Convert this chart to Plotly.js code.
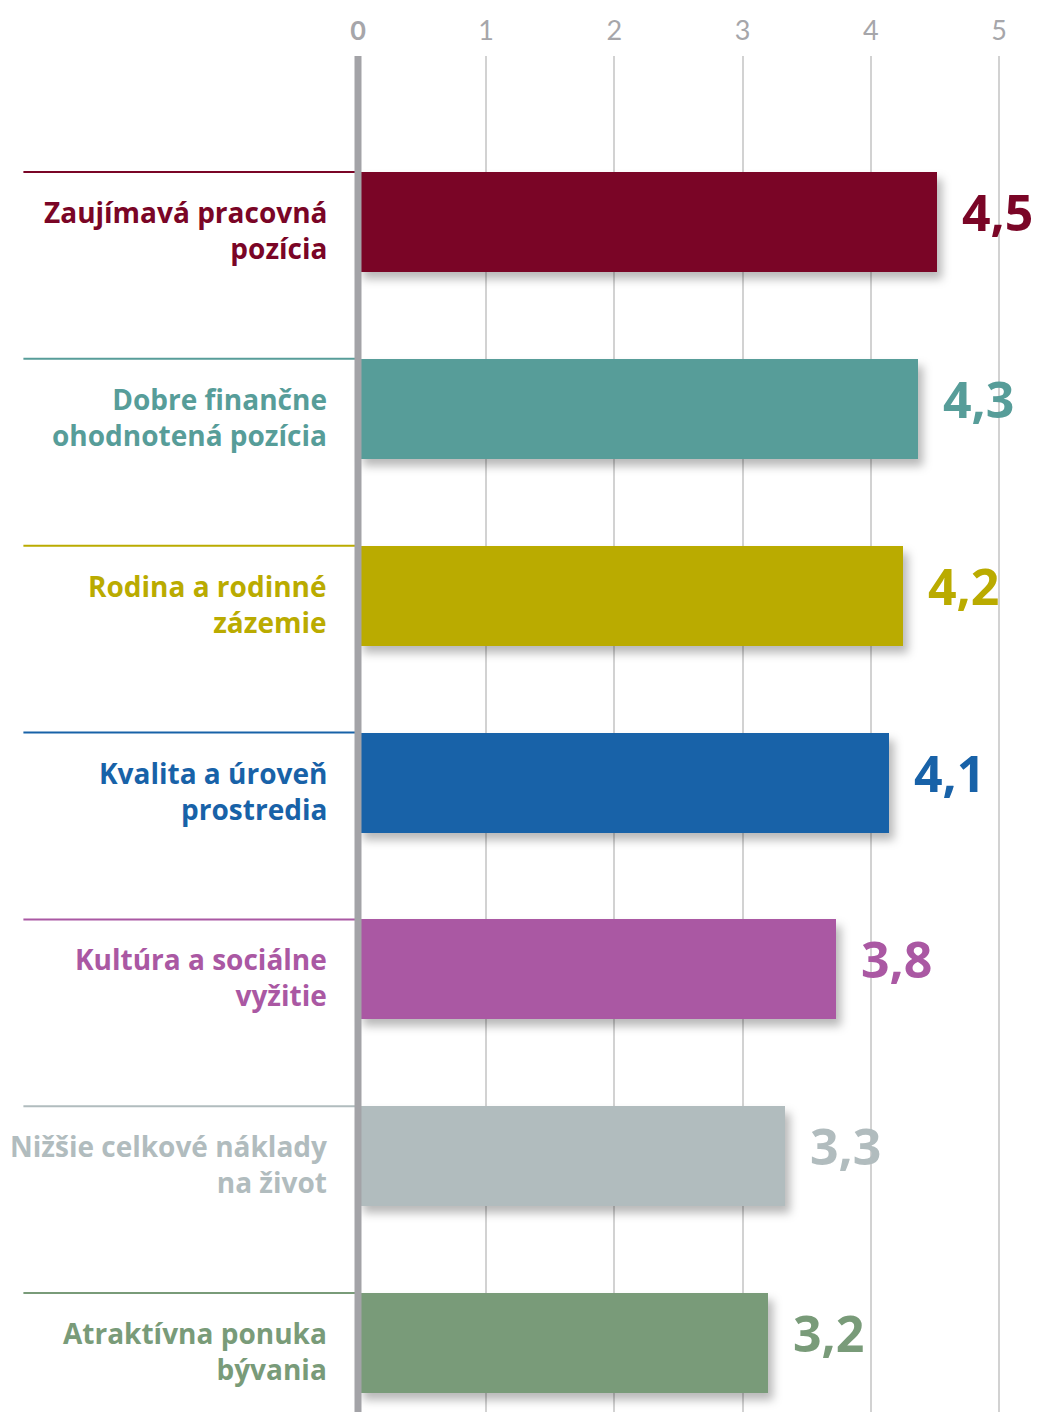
<!DOCTYPE html>
<html>
<head>
<meta charset="utf-8">
<script src="https://cdn.plot.ly/plotly-3.0.1.min.js"></script>
<style>
  html, body { margin: 0; padding: 0; background: #ffffff; }
  #chart { width: 1038px; height: 1412px; }
  .barlayer .point path { filter: drop-shadow(5px 7px 5px rgba(0,0,0,0.28)); }
</style>
</head>
<body>
<div id="chart"></div>
<script>
// ---- data ----
const categories = [
  "Zaujímavá pracovná<br>pozícia",
  "Dobre finančne<br>ohodnotená pozícia",
  "Rodina a rodinné<br>zázemie",
  "Kvalita a úroveň<br>prostredia",
  "Kultúra a sociálne<br>vyžitie",
  "Nižšie celkové náklady<br>na život",
  "Atraktívna ponuka<br>bývania"
];
const values = [4.52, 4.37, 4.25, 4.14, 3.73, 3.33, 3.20];
const valueLabels = ["4,5", "4,3", "4,2", "4,1", "3,8", "3,3", "3,2"];
const colors = ["#7a0526", "#579d99", "#baab00", "#1862a8", "#aa58a3", "#b1bcbe", "#799b79"];
const tickValues = [0, 1, 2, 3, 4, 5];
const tickLabels = ["<b>0</b>", "1", "2", "3", "4", "5"];

// ---- layout constants ----
const BAR_W = 0.535;
const LABEL_FONT = "'Open Sans', 'Noto Sans', sans-serif";
const TICK_FONT = "Lato, 'Open Sans', sans-serif";

const trace = {
  type: "bar",
  orientation: "h",
  x: values,
  y: categories,
  width: BAR_W,
  marker: { color: colors, line: { width: 0 } },
  hoverinfo: "skip",
  showlegend: false
};

const annotations = [];
const shapes = [];
categories.forEach((c, i) => {
  annotations.push({
    x: -0.227, y: c, xref: "x", yref: "y",
    xanchor: "right", yanchor: "middle", align: "right",
    text: c, showarrow: false, yshift: -8,
    font: { family: LABEL_FONT, size: 28, color: colors[i], weight: 700 }
  });
  annotations.push({
    x: values[i], y: c, xref: "x", yref: "y",
    xanchor: "left", yanchor: "middle",
    text: valueLabels[i], showarrow: false, xshift: 23, yshift: 10,
    font: { family: LABEL_FONT, size: 50, color: colors[i], weight: 700 }
  });
  shapes.push({
    type: "line", xref: "x", yref: "y",
    x0: -2.61, x1: -0.02,
    y0: i - BAR_W / 2, y1: i - BAR_W / 2,
    line: { color: colors[i], width: 2 },
    layer: "below"
  });
});
// thick zero line above the bars
shapes.push({
  type: "line", xref: "x", yref: "paper",
  x0: 0, x1: 0, y0: 0, y1: 1,
  line: { color: "#a3a3a7", width: 7 },
  layer: "above"
});

const layout = {
  width: 1038, height: 1412,
  margin: { l: 0, r: 0, t: 56, b: 0, pad: 0 },
  paper_bgcolor: "#ffffff",
  plot_bgcolor: "#ffffff",
  xaxis: {
    side: "top",
    range: [-358 / 128.2, (1038 - 358) / 128.2],
    tickmode: "array",
    tickvals: tickValues,
    ticktext: tickLabels,
    showgrid: true, gridcolor: "#d2d2d2", gridwidth: 2,
    zeroline: false, showline: false, ticks: "",
    ticklabelstandoff: 10,
    tickfont: { family: TICK_FONT, size: 27, color: "#a6a6aa", weight: 400 },
    fixedrange: true
  },
  yaxis: {
    type: "category",
    categoryorder: "array", categoryarray: categories,
    range: [6.369, -0.8885],
    showticklabels: false, showgrid: false, zeroline: false, showline: false,
    fixedrange: true
  },
  bargap: 0,
  annotations: annotations,
  shapes: shapes,
  font: { family: LABEL_FONT }
};

Plotly.newPlot("chart", [trace], layout, { displayModeBar: false, staticPlot: true });
</script>
</body>
</html>
